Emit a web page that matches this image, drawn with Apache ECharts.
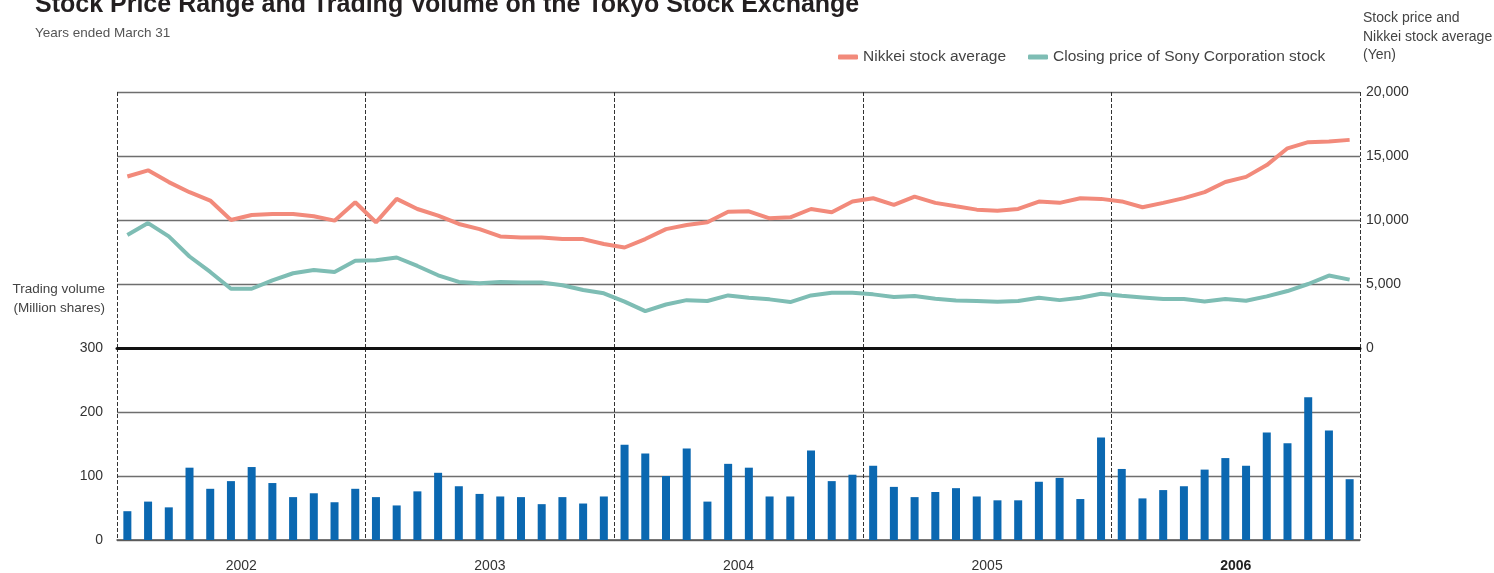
<!DOCTYPE html>
<html>
<head>
<meta charset="utf-8">
<script src="https://cdn.jsdelivr.net/npm/echarts@6/dist/echarts.min.js"></script>
<style>
  html, body { margin: 0; padding: 0; background: #fff; }
  #main { width: 1494px; height: 573px; }
</style>
</head>
<body>
<div id="main"></div>
<script>
// months April 2001 .. March 2006
const months = [
  '2001-04', '2001-05', '2001-06', '2001-07', '2001-08', '2001-09', '2001-10', '2001-11', '2001-12', '2002-01', '2002-02', '2002-03',
  '2002-04', '2002-05', '2002-06', '2002-07', '2002-08', '2002-09', '2002-10', '2002-11', '2002-12', '2003-01', '2003-02', '2003-03',
  '2003-04', '2003-05', '2003-06', '2003-07', '2003-08', '2003-09', '2003-10', '2003-11', '2003-12', '2004-01', '2004-02', '2004-03',
  '2004-04', '2004-05', '2004-06', '2004-07', '2004-08', '2004-09', '2004-10', '2004-11', '2004-12', '2005-01', '2005-02', '2005-03',
  '2005-04', '2005-05', '2005-06', '2005-07', '2005-08', '2005-09', '2005-10', '2005-11', '2005-12', '2006-01', '2006-02', '2006-03'
]
const years = ['2002', '2003', '2004', '2005', '2006']

// yen
const nikkei = [
  13400, 13880, 12960, 12170, 11520, 10000, 10390, 10470, 10470, 10290, 9950, 11390,
  9820, 11650, 10860, 10340, 9690, 9290, 8720, 8640, 8640, 8510, 8510, 8120,
  7850, 8510, 9290, 9610, 9820, 10650, 10680, 10130, 10210, 10860, 10600, 11440,
  11700, 11180, 11830, 11340, 11070, 10810, 10730, 10860, 11440, 11340, 11700, 11650,
  11450, 11000, 11340, 11710, 12180, 12970, 13370, 14290, 15600, 16080, 16130, 16260
]
const sony = [
  8820, 9760, 8720, 7150, 5940, 4630, 4630, 5290, 5840, 6100, 5940, 6810,
  6860, 7070, 6410, 5680, 5160, 5050, 5160, 5110, 5110, 4900, 4530, 4270,
  3620, 2880, 3400, 3740, 3670, 4110, 3930, 3800, 3590, 4110, 4320, 4320,
  4190, 3980, 4060, 3850, 3720, 3670, 3610, 3670, 3930, 3740, 3930, 4240,
  4080, 3950, 3820, 3820, 3630, 3820, 3690, 4030, 4450, 5000, 5660, 5340
]
// million shares
const volume = [
  45, 60, 51, 113, 80, 92, 114, 89, 67, 73, 59, 80,
  67, 54, 76, 105, 84, 72, 68, 67, 56, 67, 57, 68,
  149, 135, 100, 143, 60, 119, 113, 68, 68, 140, 92, 102,
  116, 83, 67, 75, 81, 68, 62, 62, 91, 97, 64, 160,
  111, 65, 78, 84, 110, 128, 116, 168, 151, 223, 171, 95
]

const FONT = '"Liberation Sans", Arial, sans-serif'
const gridColor = '#6e6e6e'
const dash = { color: '#333', width: 1, type: [4, 2] }

let option = {
  animation: false,
  textStyle: { fontFamily: FONT },
  graphic: [
    { type: 'text', x: 35, y: 5, style: { text: 'Stock Price Range and Trading Volume on the Tokyo Stock Exchange', font: 'bold 25px ' + FONT, fill: '#231f20', verticalAlign: 'middle' } },
    { type: 'text', x: 35, y: 33, style: { text: 'Years ended March 31', font: '13.5px ' + FONT, fill: '#555', verticalAlign: 'middle' } },
    { type: 'text', x: 1363, y: 9, style: { text: 'Stock price and\nNikkei stock average\n(Yen)', font: '14px ' + FONT, fill: '#444', lineHeight: 18.5 } },
    { type: 'text', x: 105, y: 289, style: { text: 'Trading volume', font: '13.5px ' + FONT, fill: '#444', align: 'right', verticalAlign: 'middle' } },
    { type: 'text', x: 105, y: 308, style: { text: '(Million shares)', font: '13.5px ' + FONT, fill: '#444', align: 'right', verticalAlign: 'middle' } }
  ],
  legend: {
    left: 833,
    top: 44,
    itemWidth: 20,
    itemHeight: 5,
    itemGap: 22,
    icon: 'roundRect',
    textStyle: { fontSize: 15.5, color: '#444', fontFamily: FONT },
    data: ['Nikkei stock average', 'Closing price of Sony Corporation stock']
  },
  grid: [
    { left: 117, right: 134, top: 92, height: 256 },
    { left: 117, right: 134, top: 348, height: 192 }
  ],
  xAxis: [
    {
      type: 'category', gridIndex: 0, data: months,
      axisLine: { show: true, lineStyle: { color: '#111', width: 3 } },
      axisTick: { show: false }, axisLabel: { show: false }, splitLine: { show: false }
    },
    {
      type: 'category', gridIndex: 0, data: years, position: 'bottom',
      axisLine: { show: false }, axisTick: { show: false }, axisLabel: { show: false },
      splitLine: { show: true, lineStyle: dash }
    },
    {
      type: 'category', gridIndex: 1, data: months,
      axisLine: { show: true, lineStyle: { color: '#555', width: 1.5 } },
      axisTick: { show: false }, axisLabel: { show: false }, splitLine: { show: false }
    },
    {
      type: 'category', gridIndex: 1, data: years, position: 'bottom',
      axisLine: { show: false }, axisTick: { show: false },
      axisLabel: {
        margin: 19, fontSize: 14, color: '#333',
        formatter: v => v === '2006' ? '{b|' + v + '}' : v,
        rich: { b: { fontWeight: 'bold', fontSize: 14, color: '#222' } }
      },
      splitLine: { show: true, lineStyle: dash }
    }
  ],
  yAxis: [
    {
      type: 'value', gridIndex: 0, position: 'right', min: 0, max: 20000, interval: 5000,
      axisLine: { show: false }, axisTick: { show: false },
      axisLabel: { margin: 6, fontSize: 14, color: '#333', formatter: v => v.toLocaleString('en-US') },
      splitLine: { lineStyle: { color: gridColor, width: 1.3 } }
    },
    {
      type: 'value', gridIndex: 1, position: 'left', min: 0, max: 300, interval: 100,
      axisLine: { show: false }, axisTick: { show: false },
      axisLabel: { margin: 14, fontSize: 14, color: '#333' },
      splitLine: { lineStyle: { color: gridColor, width: 1.3 } }
    }
  ],
  series: [
    {
      name: 'Nikkei stock average', type: 'line', xAxisIndex: 0, yAxisIndex: 0,
      data: nikkei, symbol: 'none', color: '#f28a7b',
      lineStyle: { width: 4, color: '#f28a7b' }
    },
    {
      name: 'Closing price of Sony Corporation stock', type: 'line', xAxisIndex: 0, yAxisIndex: 0,
      data: sony, symbol: 'none', color: '#7ebdb4',
      lineStyle: { width: 4, color: '#7ebdb4' }
    },
    {
      name: 'Trading volume', type: 'bar', xAxisIndex: 2, yAxisIndex: 1,
      data: volume, barWidth: 8, itemStyle: { color: '#0b68b1' }
    }
  ]
}

let myChart = echarts.init(document.getElementById('main'))
myChart.setOption(option)
</script>
</body>
</html>
